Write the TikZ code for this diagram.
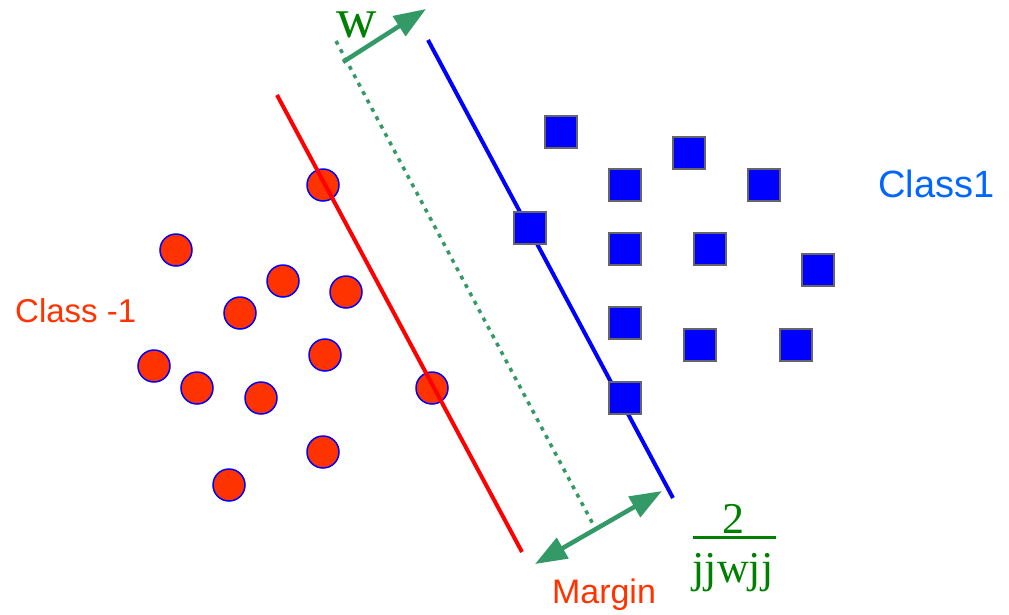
\documentclass[tikz,border=0pt]{standalone}
\usepackage{fontspec}
\setmainfont{Liberation Serif}
\setsansfont{Liberation Sans}
\usetikzlibrary{arrows.meta}
\definecolor{ptred}{HTML}{FF3300}
\definecolor{sqblue}{HTML}{0000FF}
\definecolor{lblblue}{HTML}{0066FF}
\definecolor{arrgreen}{HTML}{339966}
\definecolor{txtgreen}{HTML}{008000}
\tikzset{
  pt/.style={circle, draw=blue, line width=1.5pt, fill=ptred, minimum size=32pt, inner sep=0pt},
  sq/.style={rectangle, draw=gray!80!black, line width=1.5pt, fill=sqblue, minimum size=32pt, inner sep=0pt},
  hyper/.style={line width=4pt},
  vec/.style={draw=arrgreen, line width=4.5pt, -{Triangle[length=32pt,width=23pt]}},
  dvec/.style={draw=arrgreen, line width=4.5pt, {Triangle[length=32pt,width=23pt]}-{Triangle[length=32pt,width=23pt]}},
  sanslbl/.style={font=\sffamily\fontsize{33}{36}\selectfont, inner sep=0pt},
}
\begin{document}
\begin{tikzpicture}[x=1pt,y=-1pt]
\useasboundingbox (0,0) rectangle (1009,614);
% class -1 points
\node[pt] (c1) at (323,185) {};
\node[pt] (c2) at (176,250) {};
\node[pt] (c3) at (283,281) {};
\node[pt] (c4) at (346,292) {};
\node[pt] (c5) at (240,313) {};
\node[pt] (c6) at (325,355) {};
\node[pt] (c7) at (154,366) {};
\node[pt] (c8) at (197,388) {};
\node[pt] (c9) at (261,398) {};
\node[pt] (c10) at (432,388) {};
\node[pt] (c11) at (323,452) {};
\node[pt] (c12) at (229,485) {};
% hyperplanes
\coordinate (r1) at (277,95);
\coordinate (r2) at (522,552);
\coordinate (b1) at (428,40);
\coordinate (b2) at (673,498);
\coordinate (g1) at (336,41);
\coordinate (g2) at (594,526);
\draw[hyper, red] (r1) -- (r2);
\draw[hyper, blue] (b1) -- (b2);
\draw[draw=arrgreen, line width=3.5pt, dash pattern=on 4pt off 5.5pt] (g1) -- (g2);
% class 1 points
\node[sq] (s1) at (561,132) {};
\node[sq] (s2) at (689,153) {};
\node[sq] (s3) at (625,185) {};
\node[sq] (s4) at (764,185) {};
\node[sq] (s5) at (530,228) {};
\node[sq] (s6) at (625,249) {};
\node[sq] (s7) at (710,249) {};
\node[sq] (s8) at (818,270) {};
\node[sq] (s9) at (625,323) {};
\node[sq] (s10) at (700,345) {};
\node[sq] (s11) at (796,345) {};
\node[sq] (s12) at (625,398) {};
% w vector
\coordinate (wt) at (343,62);
\coordinate (wh) at (426,9);
\draw[vec] (wt) -- (wh);
\node[anchor=base, inner sep=0pt, text=txtgreen, font=\fontsize{56}{58}\selectfont] (wlbl) at (357,37) {w};
% margin arrow
\coordinate (ma) at (535,564);
\coordinate (mb) at (662,491);
\draw[dvec] (ma) -- (mb);
\node[sanslbl, anchor=base, text=ptred, font=\sffamily\fontsize{34}{36}\selectfont] (margin) at (604,603) {Margin};
% fraction
\node[anchor=base, inner sep=0pt, text=txtgreen, font=\fontsize{44}{48}\selectfont] (num) at (733,533) {2};
\coordinate (fb1) at (693,537);
\coordinate (fb2) at (776,537);
\draw[draw=txtgreen, line width=3pt] (fb1) -- (fb2);
\node[anchor=base, inner sep=0pt, text=txtgreen, font=\fontsize{44}{48}\selectfont] (den) at (733,582) {jjwjj};
% class labels
\node[sanslbl, anchor=base west, text=ptred] (cm1) at (15,322) {Class -1};
\node[sanslbl, anchor=base west, text=lblblue, font=\sffamily\fontsize{38}{40}\selectfont] (cp1) at (878,197) {Class1};
\end{tikzpicture}
\end{document}
